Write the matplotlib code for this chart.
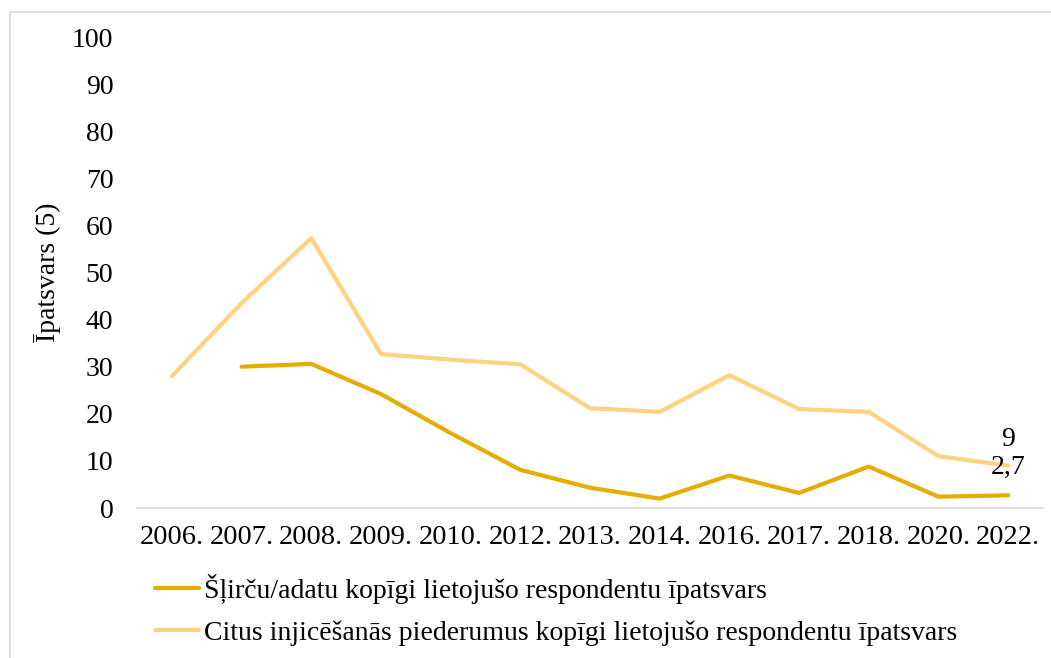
import numpy as np
import matplotlib.pyplot as plt
from matplotlib.patches import Rectangle

years = ['2006.', '2007.', '2008.', '2009.', '2010.', '2012.', '2013.',
         '2014.', '2016.', '2017.', '2018.', '2020.', '2022.']
syringes = [np.nan, 30.0, 30.6, 24.2, 15.9, 8.1, 4.3, 2.0, 6.9, 3.2, 8.8, 2.4, 2.7]
other = [28.0, 43.5, 57.3, 32.7, 31.5, 30.5, 21.2, 20.4, 28.2, 21.0, 20.4, 11.0, 9.0]

label1 = 'Šļirču/adatu kopīgi lietojušo respondentu īpatsvars'
label2 = 'Citus injicēšanās piederumus kopīgi lietojušo respondentu īpatsvars'

plt.rcParams['font.family'] = ['Liberation Serif', 'DejaVu Serif']
plt.rcParams['font.size'] = 20

dark = '#E6AC00'
light = '#FFD27F'

fig = plt.figure(figsize=(10.51, 6.58), dpi=100)
ax = fig.add_axes([137/1051, 1 - 508/658, (1043 - 137)/1051, (508 - 37)/658])

x = np.arange(len(years))
ax.plot(x, syringes, color=dark, lw=3, solid_capstyle='round', label=label1)
ax.plot(x, other, color=light, lw=3, solid_capstyle='round', label=label2)

ax.annotate('9', (x[-1], other[-1]), xytext=(0, 10), textcoords='offset points',
            ha='center', va='bottom', fontsize=20)
ax.annotate('2,7', (x[-1], syringes[-1]), xytext=(0, 11), textcoords='offset points',
            ha='center', va='bottom', fontsize=20)

ax.set_xlim(-0.5, len(years) - 0.5)
ax.set_ylim(0, 100)
ax.set_yticks(range(0, 101, 10))
ax.set_xticks(x)
ax.set_xticklabels(years, fontsize=20.5)
ax.tick_params(axis='both', length=0)
ax.tick_params(axis='y', pad=17)
ax.tick_params(axis='x', pad=12)
for s in ['top', 'right', 'left']:
    ax.spines[s].set_visible(False)
ax.spines['bottom'].set_color('#D9D9D9')
ax.spines['bottom'].set_linewidth(1.2)
ax.set_ylabel('Īpatsvars (5)', fontsize=20)
ax.yaxis.set_label_coords((61 - 137)/906, 0.5)

fig.legend(loc='upper left', bbox_to_anchor=(155/1051, 1 - 574/658), frameon=False,
           handlelength=1.6, handletextpad=0.15, labelspacing=0.6,
           borderaxespad=0, borderpad=0, fontsize=20)

fig.patches.append(Rectangle((10/1051, -0.1), 1.2, 1 - 12/658 + 0.1,
                             transform=fig.transFigure, fill=False,
                             edgecolor='#D9D9D9', lw=1.2))

fig.savefig('out.png', dpi=100)
